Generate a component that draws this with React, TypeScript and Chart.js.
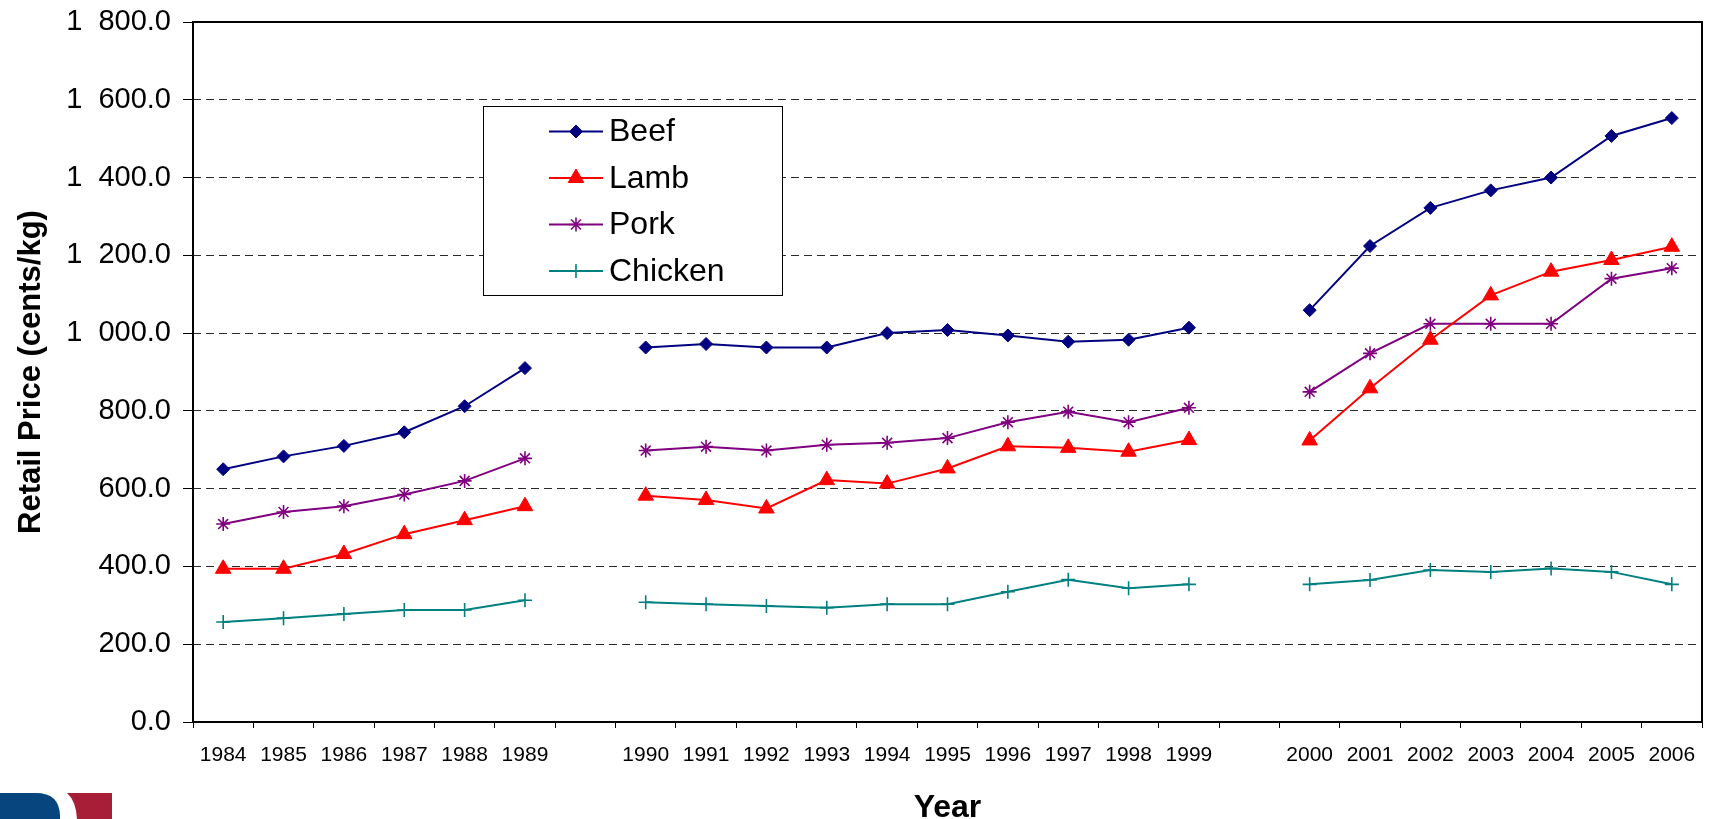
import React, { useEffect, useRef } from 'react';
import { Chart, registerables } from 'chart.js';
import { drawPoint } from 'chart.js/helpers';

Chart.register(...registerables);

const FONT = '"Liberation Sans", Arial, Helvetica, sans-serif';

const categories = [
  '1984', '1985', '1986', '1987', '1988', '1989', '',
  '1990', '1991', '1992', '1993', '1994', '1995', '1996', '1997', '1998', '1999', '',
  '2000', '2001', '2002', '2003', '2004', '2005', '2006',
];

const beef = [650, 683, 710, 745, 812, 910, null, 963, 972, 963, 963, 1000, 1008, 994, 978, 983, 1014, null, 1059, 1224, 1322, 1367, 1400, 1507, 1553];
const lamb = [394, 394, 432, 483, 519, 555, null, 582, 571, 549, 622, 613, 652, 709, 705, 695, 725, null, 724, 858, 983, 1097, 1158, 1188, 1222];
const pork = [509, 540, 555, 585, 620, 678, null, 698, 708, 698, 713, 718, 730, 771, 798, 771, 808, null, 849, 948, 1024, 1024, 1024, 1140, 1167];
const chicken = [257, 267, 278, 288, 288, 313, null, 308, 303, 298, 294, 303, 303, 335, 366, 344, 354, null, 354, 365, 391, 386, 395, 386, 354];

const yTickLabels = ['0.0', '200.0', '400.0', '600.0', '800.0', '1  000.0', '1  200.0', '1  400.0', '1  600.0', '1  800.0'];

const framePlugin = {
  id: 'frame',
  afterDraw(chart: any) {
    const { ctx, chartArea } = chart;
    ctx.save();
    ctx.strokeStyle = '#000';
    ctx.lineWidth = 2;
    ctx.strokeRect(chartArea.left, chartArea.top, chartArea.right - chartArea.left, chartArea.bottom - chartArea.top);
    ctx.restore();
  },
};

const legendPlugin = {
  id: 'boxLegend',
  afterDraw(chart: any) {
    const { ctx, chartArea } = chart;
    const x = chartArea.left + 290;
    const y = chartArea.top + 84;
    const w = 299;
    const h = 189;
    ctx.save();
    ctx.fillStyle = '#fff';
    ctx.fillRect(x, y, w, h);
    ctx.strokeStyle = '#000';
    ctx.lineWidth = 1;
    ctx.strokeRect(x + 0.5, y + 0.5, w, h);
    chart.data.datasets.forEach((ds: any, i: number) => {
      const cy = y + 25.5 + i * 46.5;
      ctx.strokeStyle = ds.borderColor;
      ctx.lineWidth = 2;
      ctx.beginPath();
      ctx.moveTo(x + 66, cy);
      ctx.lineTo(x + 120, cy);
      ctx.stroke();
      ctx.fillStyle = ds.pointBackgroundColor;
      ctx.strokeStyle = ds.pointBorderColor;
      ctx.lineWidth = ds.pointBorderWidth;
      drawPoint(ctx, { pointStyle: ds.pointStyle, rotation: 0, radius: ds.pointRadius, borderWidth: ds.pointBorderWidth }, x + 93, cy);
      ctx.fillStyle = '#000';
      ctx.font = `32px ${FONT}`;
      ctx.textBaseline = 'middle';
      ctx.textAlign = 'left';
      ctx.fillText(ds.label, x + 126, cy + 1);
    });
    ctx.restore();
  },
};

const logoPlugin = {
  id: 'logo',
  afterDraw(chart: any) {
    const { ctx } = chart;
    ctx.save();
    ctx.fillStyle = '#07457F';
    ctx.beginPath();
    ctx.moveTo(0, 793);
    ctx.lineTo(36, 793);
    ctx.quadraticCurveTo(59, 793, 60, 815);
    ctx.lineTo(60, 819);
    ctx.lineTo(0, 819);
    ctx.closePath();
    ctx.fill();
    ctx.fillStyle = '#A81E36';
    ctx.beginPath();
    ctx.moveTo(67, 793);
    ctx.lineTo(112, 793);
    ctx.lineTo(112, 819);
    ctx.lineTo(77, 819);
    ctx.quadraticCurveTo(76, 801, 67, 793);
    ctx.closePath();
    ctx.fill();
    ctx.restore();
  },
};

export default function App() {
  const canvasRef = useRef<HTMLCanvasElement | null>(null);

  useEffect(() => {
    if (!canvasRef.current) return;
    Chart.defaults.font.family = FONT;
    const chart = new Chart(canvasRef.current, {
      type: 'line',
      data: {
        labels: categories,
        datasets: [
          {
            label: 'Beef',
            data: beef,
            borderColor: '#000080',
            backgroundColor: '#000080',
            borderWidth: 2,
            pointStyle: 'rectRot',
            pointRadius: 6.5,
            pointBackgroundColor: '#000080',
            pointBorderColor: '#000080',
            pointBorderWidth: 1,
            spanGaps: false,
            tension: 0,
          },
          {
            label: 'Lamb',
            data: lamb,
            borderColor: '#FF0000',
            backgroundColor: '#FF0000',
            borderWidth: 2,
            pointStyle: 'triangle',
            pointRadius: 9,
            pointBackgroundColor: '#FF0000',
            pointBorderColor: '#FF0000',
            pointBorderWidth: 1,
            spanGaps: false,
            tension: 0,
          },
          {
            label: 'Pork',
            data: pork,
            borderColor: '#800080',
            backgroundColor: '#800080',
            borderWidth: 2,
            pointStyle: 'star',
            pointRadius: 7,
            pointBackgroundColor: '#800080',
            pointBorderColor: '#800080',
            pointBorderWidth: 1.6,
            spanGaps: false,
            tension: 0,
          },
          {
            label: 'Chicken',
            data: chicken,
            borderColor: '#008080',
            backgroundColor: '#008080',
            borderWidth: 2,
            pointStyle: 'cross',
            pointRadius: 7,
            pointBackgroundColor: '#008080',
            pointBorderColor: '#008080',
            pointBorderWidth: 1.6,
            spanGaps: false,
            tension: 0,
          },
        ],
      },
      options: {
        responsive: false,
        animation: false,
        devicePixelRatio: 1,
        layout: { padding: { top: 22, right: 6, left: 0, bottom: 0 } },
        plugins: {
          legend: { display: false },
          tooltip: { enabled: false },
        },
        scales: {
          x: {
            type: 'category',
            offset: true,
            grid: {
              display: true,
              drawOnChartArea: false,
              drawTicks: true,
              tickLength: 6,
              offset: true,
              color: '#000',
              lineWidth: 1,
            },
            border: { display: false },
            ticks: {
              color: '#000',
              font: { family: FONT, size: 21 },
              padding: 15,
              maxRotation: 0,
              minRotation: 0,
              autoSkip: false,
            },
            title: {
              display: true,
              text: 'Year',
              color: '#000',
              font: { family: FONT, size: 32, weight: 'bold', lineHeight: 0.7 },
              padding: 0,
            },
            afterFit: (s: any) => {
              s.height = 97;
              s.paddingLeft = 0;
              s.paddingRight = 0;
            },
          },
          y: {
            min: 0,
            max: 1800,
            ticks: {
              stepSize: 200,
              color: '#000',
              font: { family: FONT, size: 29 },
              padding: 12,
              callback: (v: any) => yTickLabels[Math.round(Number(v) / 200)],
            },
            grid: {
              color: '#2a2a2a',
              lineWidth: 1,
              drawTicks: true,
              tickLength: 10,
              tickColor: '#000',
              tickBorderDash: [],
            },
            border: { display: false, dash: [8, 5] },
            title: {
              display: true,
              text: 'Retail Price (cents/kg)',
              color: '#000',
              font: { family: FONT, size: 31, weight: 'bold' },
              padding: { top: 13, bottom: 0 },
            },
            afterFit: (s: any) => {
              s.width = 193;
              s.paddingTop = 0;
              s.paddingBottom = 0;
            },
          },
        },
      } as any,
      plugins: [framePlugin, legendPlugin, logoPlugin],
    });
    return () => chart.destroy();
  }, []);

  return (
    <div style={{ position: 'absolute', left: 0, top: 0, width: 1712, height: 819, background: '#fff' }}>
      <canvas ref={canvasRef} width={1712} height={819} style={{ width: 1712, height: 819, display: 'block' }} />
    </div>
  );
}
